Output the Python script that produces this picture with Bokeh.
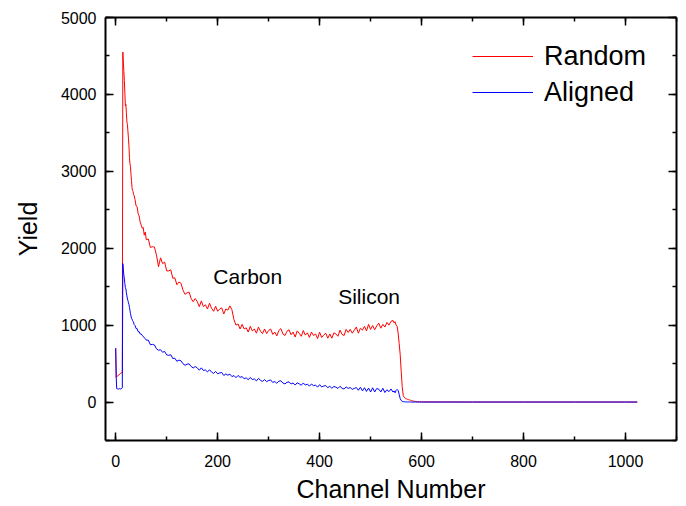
from bokeh.plotting import figure
from bokeh.models import (LinearAxis, Range1d, Label, Legend, SingleIntervalTicker,
                          CustomJSTickFormatter)
from bokeh.embed import file_html
from bokeh.resources import INLINE

# channel numbers at which the spectrum was read
chan = ([0, 1, 2, 4, 6, 8, 10, 12, 13]
        + list(range(14, 37))
        + list(range(38, 61, 2))
        + list(range(64, 545, 4))
        + list(range(546, 581, 2))
        + [584, 588, 592, 596, 600]
        + [650, 700, 750, 800, 850, 900, 950, 1000, 1023])

random_yield = [
    700, 320, 330, 340, 350, 365, 375, 380, 390,
    4550, 4420, 4300, 4180, 4020, 3850, 3870, 3760, 3640, 3610, 3520, 3430,
    3330, 3180, 3100, 3060, 2960, 2880, 2790, 2750, 2740, 2700, 2690,
    2630, 2550, 2540, 2450, 2420, 2340, 2300, 2260, 2270, 2170, 2210, 2110,
    2120, 2010, 2020, 2015, 1910, 1760, 1875, 1800, 1820, 1705,
    1705, 1720, 1610, 1615, 1525, 1560, 1545, 1455, 1400, 1420,
    1430, 1345, 1305, 1345, 1305, 1240, 1315, 1240, 1265, 1210,
    1285, 1220, 1180, 1245, 1180, 1210, 1225, 1145, 1210, 1195,
    1250, 1200, 1070, 1000, 1015, 950, 1010, 950, 965, 910,
    985, 925, 950, 895, 975, 920, 890, 950, 890, 930,
    950, 880, 910, 860, 930, 955, 885, 865, 920, 940,
    875, 910, 845, 925, 895, 855, 930, 870, 900, 840,
    910, 865, 885, 825, 908, 840, 870, 895, 830, 885,
    830, 900, 885, 855, 935, 880, 865, 945, 905, 945,
    895, 935, 975, 895, 960, 935, 985, 925, 1010, 945,
    995, 940, 990, 1025, 960, 1010, 975, 1035, 1000, 1050,
    1060,
    1030, 1045, 1000, 985, 900, 760, 620, 400, 200, 85, 60, 48, 42, 36, 32, 28, 24, 18,
    12, 7, 4, 3, 2,
    1, 0, 0, 0, 0, 0, 0, 0, 0,
]

aligned_yield = [
    700, 320, 175, 170, 170, 175, 168, 180, 185,
    1800, 1720, 1650, 1600, 1540, 1490, 1470, 1420, 1380, 1340, 1320, 1290,
    1270, 1230, 1190, 1150, 1120, 1090, 1080, 1060, 1050, 1040, 1010,
    995, 955, 955, 915, 915, 885, 885, 865, 855, 835, 825, 805,
    805, 745, 750, 742, 692, 673, 680, 647, 658, 613,
    607, 615, 566, 570, 530, 545, 537, 498, 478, 493,
    496, 462, 443, 462, 445, 414, 445, 410, 418, 392,
    420, 390, 372, 398, 368, 378, 384, 345, 366, 349,
    363, 331, 344, 317, 346, 320, 332, 302, 315, 290,
    320, 291, 301, 275, 307, 283, 268, 292, 266, 280,
    287, 255, 267, 244, 271, 277, 247, 236, 257, 262,
    235, 248, 221, 250, 237, 218, 248, 221, 234, 206,
    234, 213, 221, 194, 226, 197, 208, 214, 186, 205,
    179, 203, 193, 177, 205, 179, 169, 197, 177, 189,
    165, 177, 189, 153, 192, 145, 186, 138, 182, 131,
    185, 131, 176, 167, 131, 179, 124, 160, 135, 170,
    130,
    145, 120, 150, 165, 150, 100, 45, 20, 10, 5, 3, 2, 2, 1, 1, 1, 0, 0,
    0, 0, 0, 0, 0,
    0, 0, 0, 0, 0, 0, 0, 0, 0,
]

assert len(chan) == len(random_yield) == len(aligned_yield)

series_names = ["Random", "Aligned"]
annotations = [("Carbon", 259, 1632), ("Silicon", 497, 1371)]

FONT = "Liberation Sans"

p = figure(width=686, height=506,
           x_range=Range1d(-20, 1100), y_range=Range1d(-500, 5000),
           output_backend="svg", toolbar_location=None,
           min_border_left=105, min_border_right=10,
           min_border_top=17, min_border_bottom=66)
p.xgrid.visible = False
p.ygrid.visible = False
p.outline_line_color = None
p.background_fill_color = "white"
p.border_fill_color = "white"

xt = SingleIntervalTicker(interval=200, num_minor_ticks=2)
yt = SingleIntervalTicker(interval=1000, num_minor_ticks=2)

blank = CustomJSTickFormatter(code="return '';")
p.add_layout(LinearAxis(formatter=blank), "above")
p.add_layout(LinearAxis(formatter=blank), "right")

for ax in p.xaxis:
    ax.ticker = xt
for ax in p.yaxis:
    ax.ticker = yt

for ax in p.xaxis + p.yaxis:
    ax.axis_line_width = 2
    ax.axis_line_color = "black"
    ax.major_tick_in = 8
    ax.major_tick_out = 0
    ax.minor_tick_in = 4
    ax.minor_tick_out = 0
    ax.major_tick_line_width = 1.5
    ax.minor_tick_line_width = 1.5
    ax.major_tick_line_color = "black"
    ax.minor_tick_line_color = "black"
    ax.major_label_text_font = FONT
    ax.major_label_text_font_size = "16px"
    ax.major_label_text_color = "black"

for ax in (p.above[0], p.right[0]):
    ax.major_label_text_font_size = "1px"
    ax.major_label_standoff = 0

p.below[0].major_label_standoff = 14
p.left[0].major_label_standoff = 9

p.below[0].axis_label = "Channel Number"
p.left[0].axis_label = "Yield"
for ax in (p.below[0], p.left[0]):
    ax.axis_label_text_font = FONT
    ax.axis_label_text_font_size = "25px"
    ax.axis_label_text_font_style = "normal"
    ax.axis_label_text_color = "black"
p.below[0].axis_label_standoff = 5
p.left[0].axis_label_standoff = 16

r1 = p.line(chan, random_yield, line_color="#ff0000", line_width=1)
r2 = p.line(chan, aligned_yield, line_color="#0000ff", line_width=1)

legend = Legend(items=[(series_names[0], [r1]), (series_names[1], [r2])],
                location=(367, 332), margin=0, padding=0, spacing=4,
                glyph_width=61, glyph_height=32, label_height=32,
                label_standoff=11,
                border_line_color=None, background_fill_alpha=0,
                label_text_font=FONT, label_text_font_size="27px",
                label_text_color="black")
p.add_layout(legend)

for txt, xx, yy in annotations:
    p.add_layout(Label(x=xx, y=yy, text=txt, text_align="center",
                       text_baseline="middle", text_font=FONT,
                       text_font_size="21px", text_color="black"))

open("out.html", "w").write(file_html(p, INLINE))
